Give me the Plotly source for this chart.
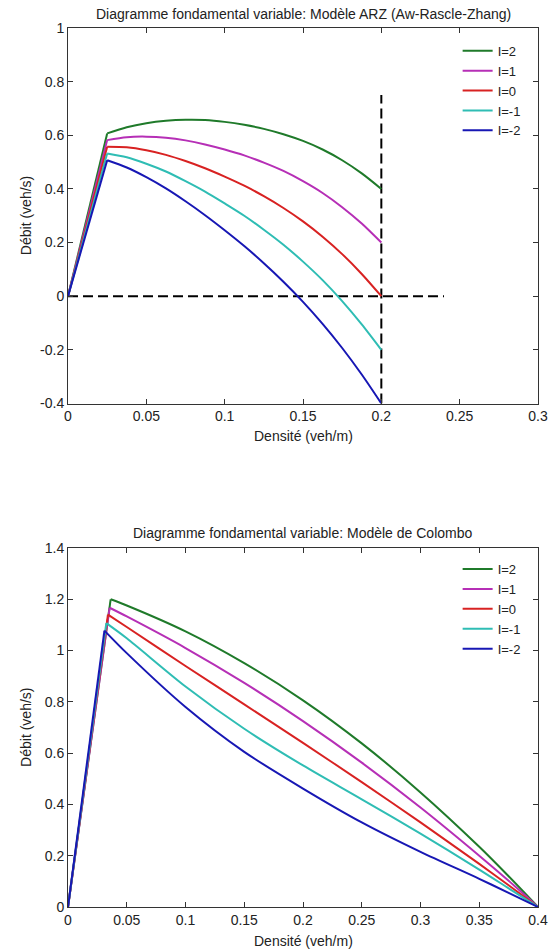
import plotly.graph_objects as go

# ---------------- data: ARZ model (top) ----------------
ARZ_RHO = [0, 0.025, 0.0375, 0.05, 0.0625, 0.075, 0.0875, 0.1, 0.1125, 0.125,
           0.1375, 0.15, 0.1625, 0.175, 0.1875, 0.2]
ARZ_I2 = [0, 0.607, 0.630, 0.645, 0.654, 0.658, 0.657, 0.650, 0.639, 0.624,
          0.604, 0.579, 0.547, 0.507, 0.458, 0.400]
ARZ_I1 = [0, 0.582, 0.593, 0.595, 0.591, 0.581, 0.566, 0.547, 0.525, 0.498,
          0.467, 0.429, 0.385, 0.332, 0.271, 0.200]
ARZ_I0 = [0, 0.557, 0.555, 0.544, 0.527, 0.504, 0.477, 0.446, 0.412, 0.373,
          0.329, 0.279, 0.222, 0.157, 0.083, 0.000]
ARZ_Im1 = [0, 0.532, 0.518, 0.494, 0.465, 0.429, 0.390, 0.346, 0.300, 0.248,
           0.192, 0.129, 0.060, -0.018, -0.105, -0.200]
ARZ_Im2 = [0, 0.507, 0.480, 0.444, 0.402, 0.354, 0.302, 0.246, 0.187, 0.123,
           0.054, -0.021, -0.103, -0.193, -0.292, -0.400]

DASH_H_X = [0, 0.24]
DASH_H_Y = [0, 0]
DASH_V_X = [0.2, 0.2]
DASH_V_Y = [-0.4, 0.75]

# ---------------- data: Colombo model (bottom) ----------------
COL_RHO_I2 = [0, 0.0363, 0.05, 0.1, 0.15, 0.2, 0.25, 0.3, 0.35, 0.375, 0.4]
COL_I2 = [0, 1.200, 1.176, 1.075, 0.951, 0.806, 0.638, 0.447, 0.235, 0.120, 0]
COL_RHO_I1 = [0, 0.0354, 0.05, 0.1, 0.15, 0.2, 0.25, 0.3, 0.35, 0.375, 0.4]
COL_I1 = [0, 1.167, 1.133, 1.010, 0.874, 0.725, 0.563, 0.388, 0.200, 0.102, 0]
COL_RHO_I0 = [0, 0.034, 0.05, 0.1, 0.15, 0.2, 0.25, 0.3, 0.35, 0.375, 0.4]
COL_I0 = [0, 1.140, 1.092, 0.940, 0.790, 0.640, 0.487, 0.330, 0.168, 0.085, 0]
COL_RHO_Im1 = [0, 0.0326, 0.05, 0.1, 0.15, 0.2, 0.25, 0.3, 0.35, 0.375, 0.4]
COL_Im1 = [0, 1.107, 1.048, 0.860, 0.695, 0.552, 0.420, 0.286, 0.146, 0.073, 0]
COL_RHO_Im2 = [0, 0.031, 0.05, 0.1, 0.15, 0.2, 0.25, 0.3, 0.35, 0.375, 0.4]
COL_Im2 = [0, 1.078, 0.990, 0.780, 0.605, 0.462, 0.330, 0.215, 0.110, 0.055, 0]

LABELS = ["I=2", "I=1", "I=0", "I=-1", "I=-2"]
COLORS = ["#1f7a2a", "#b62fb6", "#d82222", "#2fbdb4", "#1717b4"]

TOP_XTICKS = [0, 0.05, 0.1, 0.15, 0.2, 0.25, 0.3]
TOP_XTEXT = ["0", "0.05", "0.1", "0.15", "0.2", "0.25", "0.3"]
TOP_YTICKS = [-0.4, -0.2, 0, 0.2, 0.4, 0.6, 0.8, 1]
TOP_YTEXT = ["-0.4", "-0.2", "0", "0.2", "0.4", "0.6", "0.8", "1"]
BOT_XTICKS = [0, 0.05, 0.1, 0.15, 0.2, 0.25, 0.3, 0.35, 0.4]
BOT_XTEXT = ["0", "0.05", "0.1", "0.15", "0.2", "0.25", "0.3", "0.35", "0.4"]
BOT_YTICKS = [0, 0.2, 0.4, 0.6, 0.8, 1, 1.2, 1.4]
BOT_YTEXT = ["0", "0.2", "0.4", "0.6", "0.8", "1", "1.2", "1.4"]

FONT = "Liberation Sans, Arial, sans-serif"
TXT = "#222222"
FS = 14
FS_LEG = 13

fig = go.Figure()


def add_series(xs, ys, name, color, xa, ya, legend):
    # free-flow branch (straight)
    fig.add_trace(go.Scatter(x=xs[:2], y=ys[:2], mode="lines", name=name,
                             legendgroup=legend + name, showlegend=False,
                             line=dict(color=color, width=2),
                             xaxis=xa, yaxis=ya, hoverinfo="skip"))
    # congested branch (smooth curve)
    fig.add_trace(go.Scatter(x=xs[1:], y=ys[1:], mode="lines", name=name,
                             legendgroup=legend + name, showlegend=True,
                             legend=legend,
                             line=dict(color=color, width=2, shape="spline",
                                       smoothing=0.8),
                             xaxis=xa, yaxis=ya))


# dashed reference lines (top)
for dx, dy in [(DASH_H_X, DASH_H_Y), (DASH_V_X, DASH_V_Y)]:
    fig.add_trace(go.Scatter(x=dx, y=dy, mode="lines", showlegend=False,
                             line=dict(color="black", width=2, dash="10px,5px"),
                             xaxis="x", yaxis="y", hoverinfo="skip"))

top_series = [ARZ_I2, ARZ_I1, ARZ_I0, ARZ_Im1, ARZ_Im2]
for ys, lab, col in zip(top_series, LABELS, COLORS):
    add_series(ARZ_RHO, ys, lab, col, "x", "y", "legend")

bot_x = [COL_RHO_I2, COL_RHO_I1, COL_RHO_I0, COL_RHO_Im1, COL_RHO_Im2]
bot_y = [COL_I2, COL_I1, COL_I0, COL_Im1, COL_Im2]
for xs, ys, lab, col in zip(bot_x, bot_y, LABELS, COLORS):
    add_series(xs, ys, lab, col, "x2", "y2", "legend2")

axis_common = dict(showgrid=False, zeroline=False, showline=True, linecolor="#333333",
                   linewidth=1, mirror="ticks", ticks="inside", ticklen=5,
                   tickcolor="#333333", tickfont=dict(family=FONT, size=FS, color=TXT))

TOP_DOM = [0.5728, 1.0]
BOT_DOM = [0.0, 0.4084]

fig.update_layout(
    width=560, height=949,
    margin=dict(l=68, r=18, t=28, b=42),
    paper_bgcolor="white", plot_bgcolor="white",
    font=dict(family=FONT, size=FS, color=TXT),
    xaxis=dict(domain=[0, 1], anchor="y", range=[0, 0.3], tickvals=TOP_XTICKS,
               ticktext=TOP_XTEXT, **axis_common),
    yaxis=dict(domain=TOP_DOM, anchor="x", range=[-0.4, 1], tickvals=TOP_YTICKS,
               ticktext=TOP_YTEXT, **axis_common),
    xaxis2=dict(domain=[0, 1], anchor="y2", range=[0, 0.4], tickvals=BOT_XTICKS,
                ticktext=BOT_XTEXT, **axis_common),
    yaxis2=dict(domain=BOT_DOM, anchor="x2", range=[0, 1.4], tickvals=BOT_YTICKS,
                ticktext=BOT_YTEXT, **axis_common),
    legend=dict(x=0.829, y=0.9911, xanchor="left", yanchor="top",
                bgcolor="rgba(255,255,255,0)", borderwidth=0,
                font=dict(family=FONT, size=FS_LEG, color=TXT), tracegroupgap=0),
    legend2=dict(x=0.829, y=0.4015, xanchor="left", yanchor="top",
                 bgcolor="rgba(255,255,255,0)", borderwidth=0,
                 font=dict(family=FONT, size=FS_LEG, color=TXT), tracegroupgap=0),
    showlegend=True,
)

ann = [
    dict(text="Diagramme fondamental variable: Modèle ARZ (Aw-Rascle-Zhang)",
         x=0.5, y=1.0154, xref="paper", yref="paper", yanchor="middle"),
    dict(text="Diagramme fondamental variable: Modèle de Colombo",
         x=0.5, y=0.4255, xref="paper", yref="paper", yanchor="middle"),
    dict(text="Densité (veh/m)", x=0.5, y=0.5353, xref="paper", yref="paper",
         yanchor="middle"),
    dict(text="Densité (veh/m)", x=0.5, y=-0.0387, xref="paper", yref="paper",
         yanchor="middle"),
    dict(text="Débit (veh/s)", x=-0.0907, y=0.7864, xref="paper", yref="paper",
         textangle=-90, xanchor="center", yanchor="middle"),
    dict(text="Débit (veh/s)", x=-0.0907, y=0.2042, xref="paper", yref="paper",
         textangle=-90, xanchor="center", yanchor="middle"),
]
for a in ann:
    a.update(showarrow=False, font=dict(family=FONT, size=FS, color=TXT))
fig.update_layout(annotations=ann)

fig.write_html("out.html")
